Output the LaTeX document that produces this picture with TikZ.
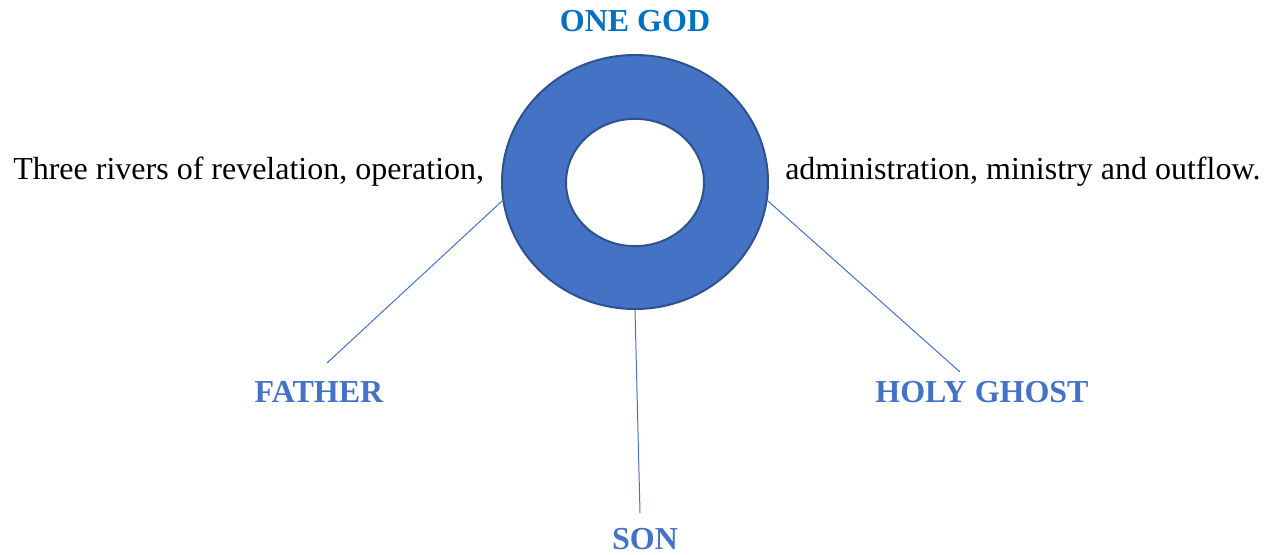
\documentclass[tikz,border=0pt]{standalone}
\usepackage{fontspec}
\setmainfont{Liberation Serif}
\usetikzlibrary{shapes.geometric}
\definecolor{ringblue}{HTML}{4472C4}
\definecolor{ringedge}{HTML}{2F528F}
\definecolor{godblue}{HTML}{0070C0}

\begin{document}
\begin{tikzpicture}[x=0.75pt, y=-0.75pt]
 \useasboundingbox (0,0) rectangle (1270,554);
 \tikzset{person/.style={font=\fontsize{24}{28}\selectfont\bfseries, text=ringblue, inner sep=0pt, anchor=base},
          river/.style={font=\fontsize{24}{28}\selectfont, inner sep=0pt, anchor=base west}}
 \node (ring) [ellipse, draw=ringedge, line width=1.5pt, fill=ringblue, inner sep=0pt,
               minimum width=199.5pt, minimum height=190.5pt] at (635,182) {};
 \node (hole) [ellipse, draw=ringedge, line width=1.5pt, fill=white, inner sep=0pt,
               minimum width=103.5pt, minimum height=95.5pt] at (635,182.5) {};
 \node (god)  [person, text=godblue] at (635,31) {ONE GOD};
 \node (left)  [river] at (13,179) {Three rivers of revelation, operation,};
 \node (right) [river] at (785,179) {administration, ministry and outflow.};
 \node (father) [person] at (319,402) {FATHER};
 \node (son)    [person] at (645,549) {SON};
 \node (ghost)  [person] at (982,402) {HOLY GHOST};
 \coordinate (f) at (327,363);
 \coordinate (s) at (640,513);
 \coordinate (g) at (960,372);
 \draw [ringblue, line width=0.75pt] (ring.188) -- (f);
 \draw [ringblue, line width=0.75pt] (ring.south) -- (s);
 \draw [ringblue, line width=0.75pt] (ring.352) -- (g);
\end{tikzpicture}
\end{document}
